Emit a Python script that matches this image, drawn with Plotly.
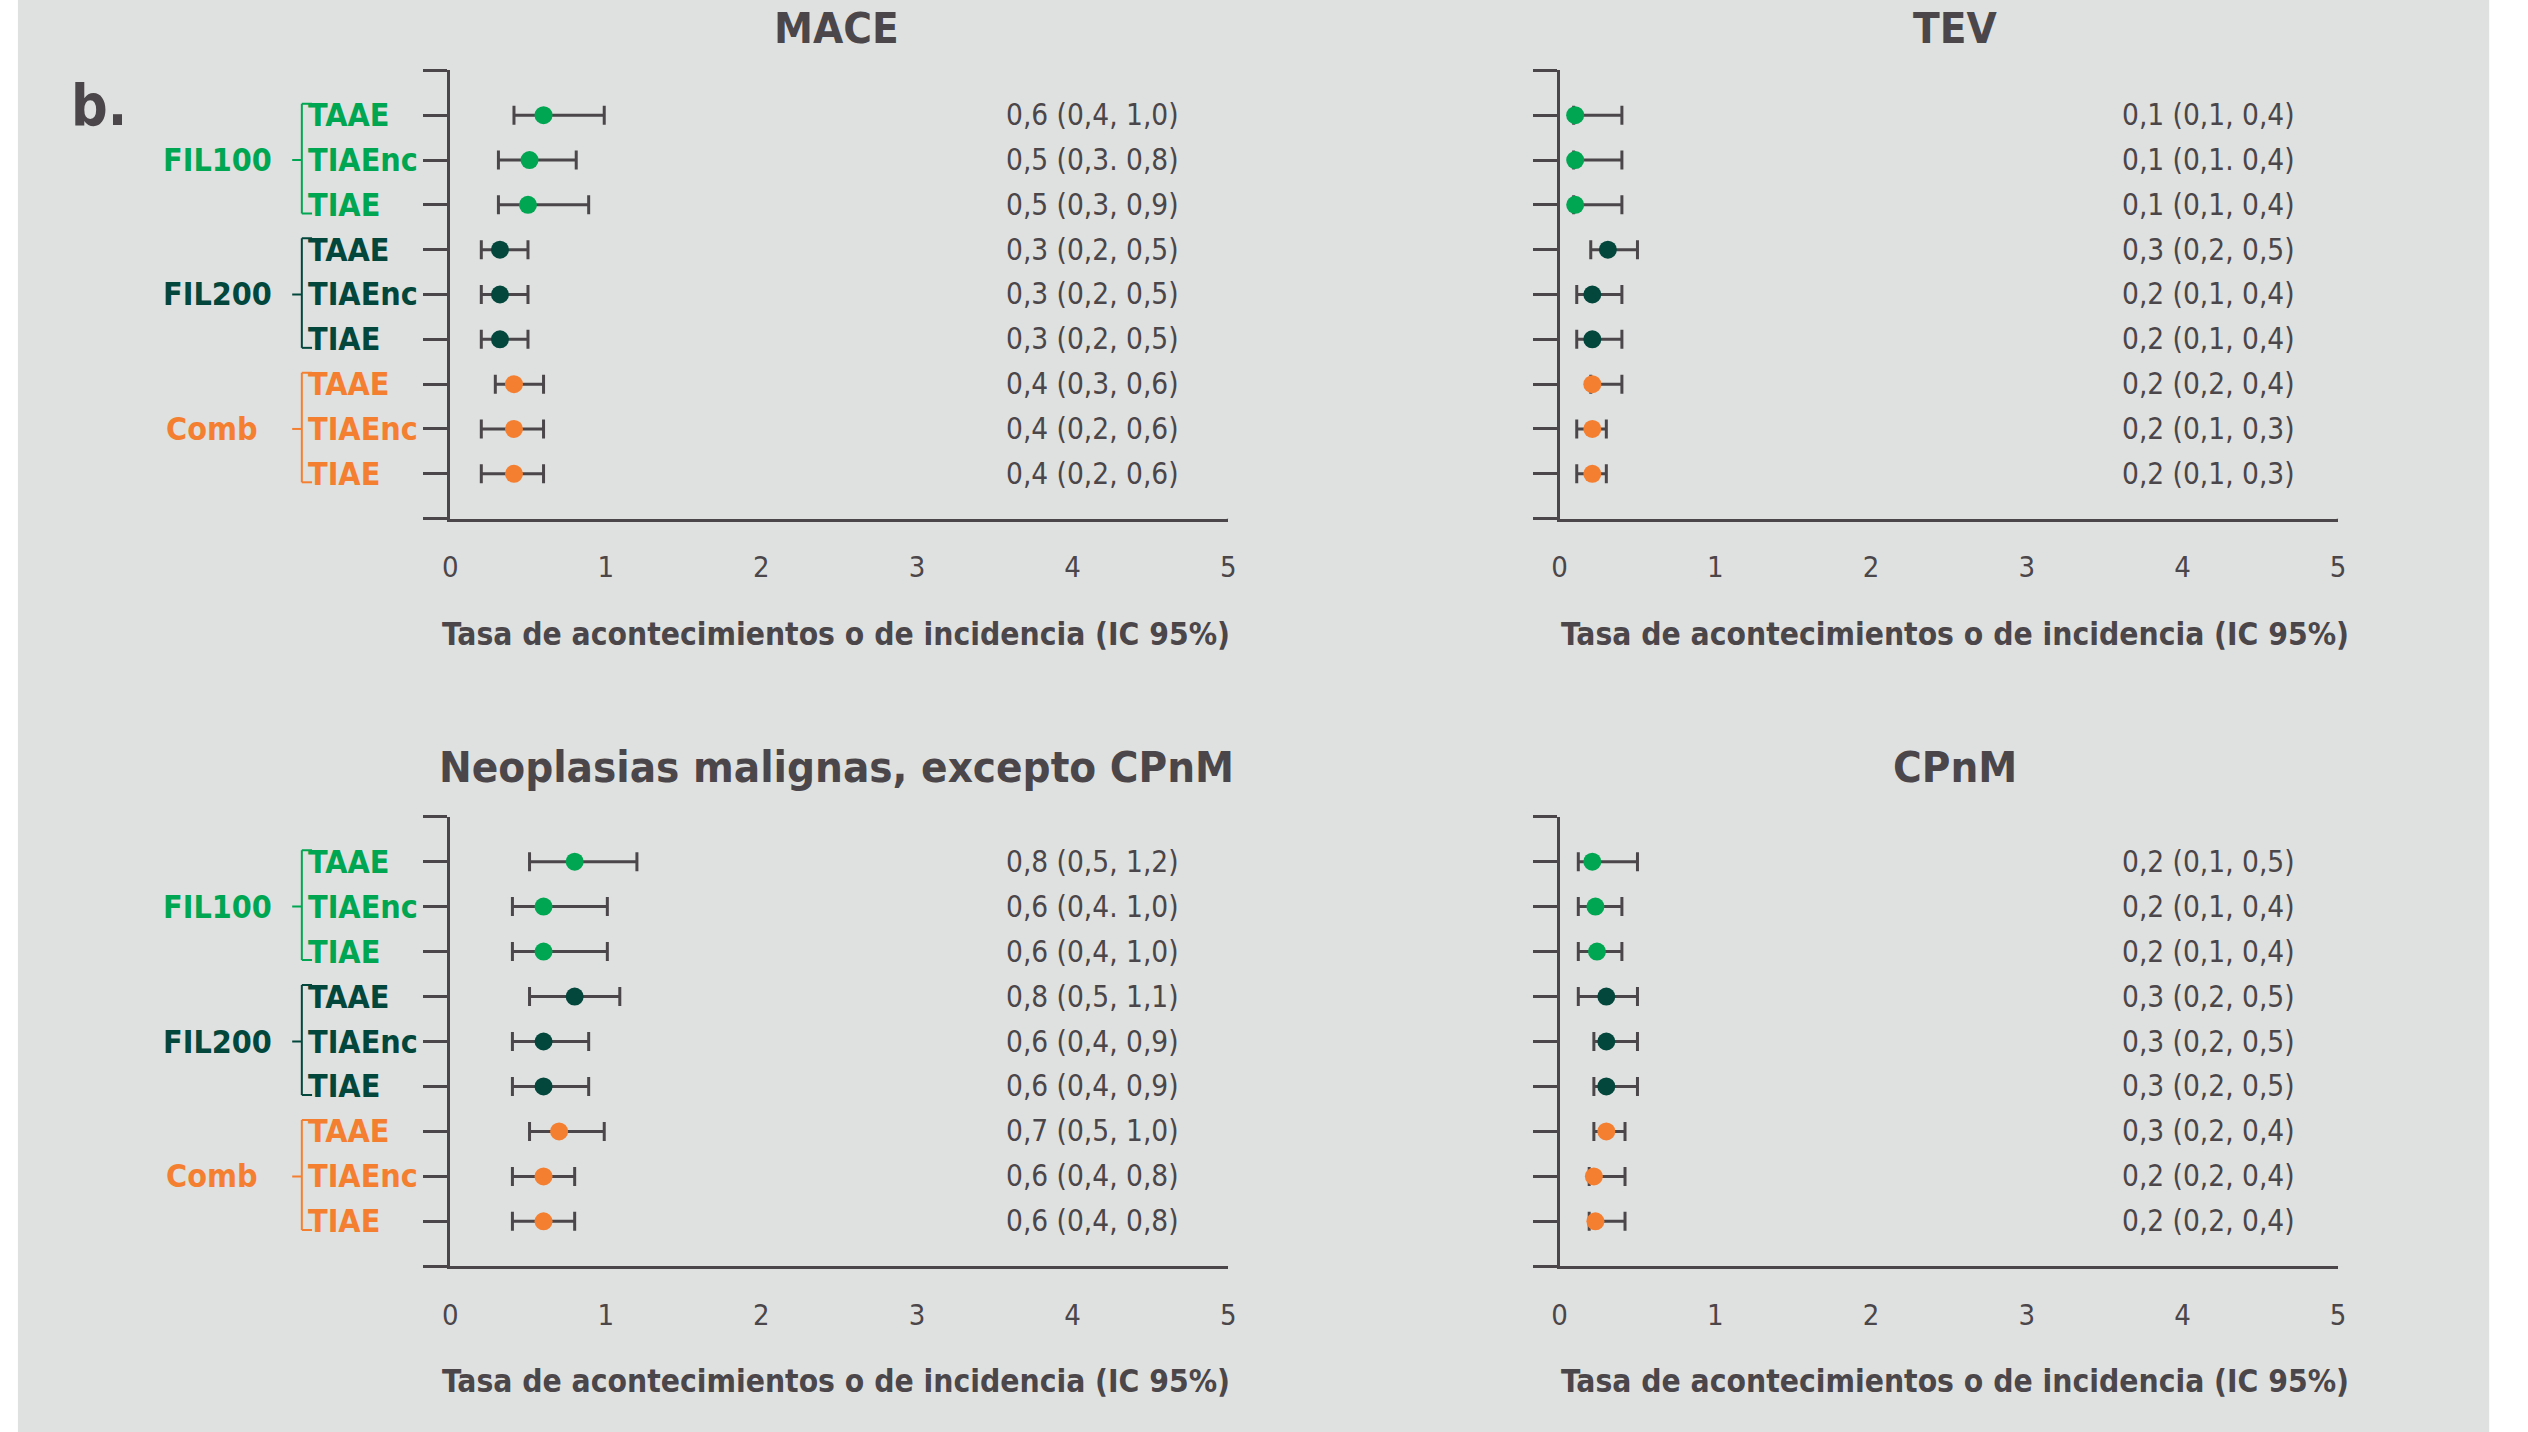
import plotly.graph_objects as go

# ---------------- data ----------------
row_labels = ["TAAE", "TIAEnc", "TIAE", "TAAE", "TIAEnc", "TIAE", "TAAE", "TIAEnc", "TIAE"]
groups = ["FIL100", "FIL200", "Comb"]
panel_titles = ["MACE", "TEV", "Neoplasias malignas, excepto CPnM", "CPnM"]
x_ticks = [0, 1, 2, 3, 4, 5]
x_title = "Tasa de acontecimientos o de incidencia (IC 95%)"
panel_letter = "b."

mace_est = [0.60, 0.51, 0.50, 0.32, 0.32, 0.32, 0.41, 0.41, 0.41]
mace_low = [0.41, 0.31, 0.31, 0.20, 0.20, 0.20, 0.29, 0.20, 0.20]
mace_high = [0.99, 0.81, 0.89, 0.50, 0.50, 0.50, 0.60, 0.60, 0.60]
mace_text = ["0,6 (0,4, 1,0)", "0,5 (0,3. 0,8)", "0,5 (0,3, 0,9)", "0,3 (0,2, 0,5)", "0,3 (0,2, 0,5)",
             "0,3 (0,2, 0,5)", "0,4 (0,3, 0,6)", "0,4 (0,2, 0,6)", "0,4 (0,2, 0,6)"]

tev_est = [0.10, 0.10, 0.10, 0.31, 0.21, 0.21, 0.21, 0.21, 0.21]
tev_low = [0.09, 0.09, 0.09, 0.20, 0.11, 0.11, 0.20, 0.11, 0.11]
tev_high = [0.40, 0.40, 0.40, 0.50, 0.40, 0.40, 0.40, 0.30, 0.30]
tev_text = ["0,1 (0,1, 0,4)", "0,1 (0,1. 0,4)", "0,1 (0,1, 0,4)", "0,3 (0,2, 0,5)", "0,2 (0,1, 0,4)",
            "0,2 (0,1, 0,4)", "0,2 (0,2, 0,4)", "0,2 (0,1, 0,3)", "0,2 (0,1, 0,3)"]

neo_est = [0.80, 0.60, 0.60, 0.80, 0.60, 0.60, 0.70, 0.60, 0.60]
neo_low = [0.51, 0.40, 0.40, 0.51, 0.40, 0.40, 0.51, 0.40, 0.40]
neo_high = [1.20, 1.01, 1.01, 1.09, 0.89, 0.89, 0.99, 0.80, 0.80]
neo_text = ["0,8 (0,5, 1,2)", "0,6 (0,4. 1,0)", "0,6 (0,4, 1,0)", "0,8 (0,5, 1,1)", "0,6 (0,4, 0,9)",
            "0,6 (0,4, 0,9)", "0,7 (0,5, 1,0)", "0,6 (0,4, 0,8)", "0,6 (0,4, 0,8)"]

cpnm_est = [0.21, 0.23, 0.24, 0.30, 0.30, 0.30, 0.30, 0.22, 0.23]
cpnm_low = [0.12, 0.12, 0.12, 0.12, 0.22, 0.22, 0.22, 0.19, 0.19]
cpnm_high = [0.50, 0.40, 0.40, 0.50, 0.50, 0.50, 0.42, 0.42, 0.42]
cpnm_text = ["0,2 (0,1, 0,5)", "0,2 (0,1, 0,4)", "0,2 (0,1, 0,4)", "0,3 (0,2, 0,5)", "0,3 (0,2, 0,5)",
             "0,3 (0,2, 0,5)", "0,3 (0,2, 0,4)", "0,2 (0,2, 0,4)", "0,2 (0,2, 0,4)"]

# ---------------- styles ----------------
W, H = 2528, 1432
BG = "#dfe1e0"
INK = "#4b4649"
GREEN = "#00a651"
DKGREEN = "#03473c"
ORANGE = "#f47f31"
group_colors = [GREEN, DKGREEN, ORANGE]
row_colors = [c for c in group_colors for _ in range(3)]
FONT = "DejaVu Sans Condensed, DejaVu Sans, sans-serif"

rows_y = list(range(9, 0, -1))  # top row = 9


def px_x(x):
    return x / W


def px_y(y):
    return 1 - y / H


# panel boxes in pixels: x0, x1, ytop, ybottom
boxes = [
    (445, 1228, 70.4, 518.6),
    (1561.5, 2345, 70.4, 518.6),
    (445, 1228, 816.7, 1266.3),
    (1561.5, 2345, 816.7, 1266.3),
]
# per-panel nudges (px) for titles and value labels
title_dx = [-3, 6, -3, 6]
title_dy = [-42, -42, -50, -50]
value_x = [3.56, 3.60, 3.56, 3.60]

panels = [
    (mace_est, mace_low, mace_high, mace_text),
    (tev_est, tev_low, tev_high, tev_text),
    (neo_est, neo_low, neo_high, neo_text),
    (cpnm_est, cpnm_low, cpnm_high, cpnm_text),
]

fig = go.Figure()
annotations = []
shapes = []

# grey background panel
shapes.append(dict(type="rect", xref="paper", yref="paper", x0=px_x(10), x1=px_x(2497), y0=0, y1=1,
                   fillcolor=BG, line=dict(width=0), layer="below"))

for i, ((x0, x1, yt, yb), (est, low, high, txt)) in enumerate(zip(boxes, panels)):
    n = i + 1
    xa = "x" if n == 1 else f"x{n}"
    ya = "y" if n == 1 else f"y{n}"
    xkey = "xaxis" if n == 1 else f"xaxis{n}"
    ykey = "yaxis" if n == 1 else f"yaxis{n}"

    fig.add_trace(go.Scatter(
        x=est, y=rows_y, xaxis=xa, yaxis=ya, mode="markers",
        marker=dict(size=18, color=row_colors, line=dict(width=0)),
        error_x=dict(type="data", symmetric=False,
                     array=[h - e for h, e in zip(high, est)],
                     arrayminus=[e - l for e, l in zip(est, low)],
                     color=INK, thickness=3, width=9.5),
        showlegend=False, hoverinfo="skip", cliponaxis=False,
    ))

    fig.layout[xkey] = dict(
        domain=[px_x(x0), px_x(x1)], anchor=ya, range=[0, 5],
        tickvals=x_ticks, ticktext=[str(t) for t in x_ticks],
        ticks="outside", ticklen=21, tickcolor="rgba(0,0,0,0)",
        showline=True, linewidth=3, linecolor=INK,
        showgrid=False, zeroline=False,
        tickfont=dict(family=FONT, size=29, color=INK),
    )
    fig.layout[ykey] = dict(
        domain=[px_y(yb), px_y(yt)], anchor=xa, range=[0, 10],
        tickvals=list(range(0, 11)), ticks="outside", ticklen=24, tickwidth=3, tickcolor=INK,
        showticklabels=False, showline=True, linewidth=3, linecolor=INK,
        showgrid=False, zeroline=False,
    )

    # small end tick at x = 5
    shapes.append(dict(type="line", xref=xa, yref=ya, x0=5, x1=5, ysizemode="pixel", yanchor=0,
                       y0=0, y1=-7, line=dict(color=INK, width=3)))

    # panel title
    xc = px_x((x0 + x1) / 2 + title_dx[i])
    annotations.append(dict(text=f"<b>{panel_titles[i]}</b>", xref="paper", yref="paper",
                            x=xc, y=px_y(yt + title_dy[i]), xanchor="center", yanchor="middle",
                            showarrow=False, font=dict(family=FONT, size=43.5, color=INK)))
    # x-axis title
    annotations.append(dict(text=f"<b>{x_title}</b>", xref="paper", yref="paper",
                            x=xc, y=px_y(yb + 115), xanchor="center", yanchor="middle",
                            showarrow=False, font=dict(family=FONT, size=31.5, color=INK)))
    # value labels
    for yv, t in zip(rows_y, txt):
        annotations.append(dict(text=t, xref=xa, yref=ya, x=value_x[i], y=yv, xanchor="left",
                                yanchor="middle", showarrow=False,
                                font=dict(family=FONT, size=29.5, color=INK)))

    # left labels & brackets on left panels
    if i in (0, 2):
        for yv, lab, col in zip(rows_y, row_labels, row_colors):
            annotations.append(dict(text=f"<b>{lab}</b>", xref="paper", yref=ya, x=px_x(300),
                                    y=yv, xanchor="left", yanchor="middle", showarrow=False,
                                    font=dict(family=FONT, size=32, color=col)))
        for g, (gname, col) in enumerate(zip(groups, group_colors)):
            r_top = rows_y[3 * g]
            r_mid = rows_y[3 * g + 1]
            r_bot = rows_y[3 * g + 2]
            annotations.append(dict(text=f"<b>{gname}</b>", xref="paper", yref=ya,
                                    x=px_x(154 if gname != "Comb" else 157), y=r_mid,
                                    xanchor="left", yanchor="middle", showarrow=False,
                                    font=dict(family=FONT, size=32, color=col)))
            ytop, ybot = r_top + 0.254, r_bot - 0.19
            lw = dict(color=col, width=2)
            shapes.append(dict(type="line", xref="paper", yref=ya, x0=px_x(295.7), x1=px_x(295.7),
                               y0=ytop, y1=ybot, line=lw))
            shapes.append(dict(type="line", xref="paper", yref=ya, x0=px_x(295.7), x1=px_x(306),
                               y0=ytop, y1=ytop, line=lw))
            shapes.append(dict(type="line", xref="paper", yref=ya, x0=px_x(295.7), x1=px_x(306),
                               y0=ybot, y1=ybot, line=lw))
            shapes.append(dict(type="line", xref="paper", yref=ya, x0=px_x(286), x1=px_x(295.7),
                               y0=r_mid, y1=r_mid, line=lw))

annotations.append(dict(text=f"<b>{panel_letter}</b>", xref="paper", yref="paper", x=px_x(61),
                        y=px_y(105), xanchor="left", yanchor="middle", showarrow=False,
                        font=dict(family=FONT, size=57, color=INK)))

fig.update_layout(
    width=W, height=H, margin=dict(l=0, r=0, t=0, b=0),
    paper_bgcolor="white", plot_bgcolor="rgba(0,0,0,0)",
    annotations=annotations, shapes=shapes, showlegend=False,
)

fig.write_html(
    "out.html",
    config={"displayModeBar": False},
    post_script="document.body.style.margin='0';document.body.style.overflow='hidden';",
)
